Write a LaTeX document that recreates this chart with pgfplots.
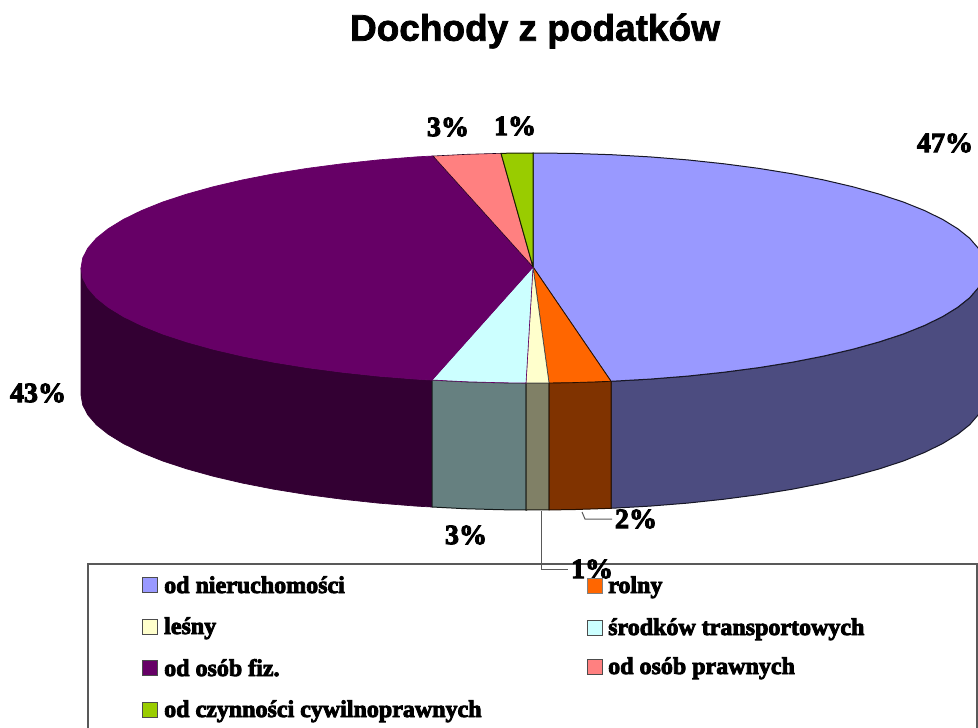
\documentclass[border=0pt]{standalone}
\usepackage{pgfplots}
\pgfplotsset{compat=1.18}
\usepackage{fontspec}
\setmainfont{Liberation Serif}
\newfontfamily\lab[FakeBold=3.5]{Liberation Serif Bold}
\newfontfamily\ttl[FakeBold=2]{Liberation Sans Bold}
\definecolor{cBlue}{HTML}{9999FF}\definecolor{sBlue}{HTML}{4C4C80}
\definecolor{cOr}{HTML}{FF6600}\definecolor{sOr}{HTML}{803300}
\definecolor{cCr}{HTML}{FFFFCC}\definecolor{sCr}{HTML}{808066}
\definecolor{cCy}{HTML}{CCFFFF}\definecolor{sCy}{HTML}{668080}
\definecolor{cPu}{HTML}{660066}\definecolor{sPu}{HTML}{330033}
\definecolor{cPk}{HTML}{FF8080}\definecolor{cGr}{HTML}{99CC00}
\begin{document}
\begin{tikzpicture}
\path[use as bounding box] (0,0) rectangle (978pt,728pt);
\begin{axis}[at={(0,0)},anchor=south west,width=978pt,height=728pt,scale only axis,xmin=0,xmax=978,ymin=0,ymax=728,y dir=reverse,axis lines=none,clip=true]
% sides
\addplot[fill=sBlue,draw=black!70!sBlue,line width=1pt] coordinates {(611,381.3)(650,379.1)(687.6,376.1)(724,372.2)(759,367.6)(792.3,362.2)(823.5,356.1)(852.6,349.3)(879.2,341.9)(903.3,334)(924.4,325.5)(942.6,316.6)(957.7,307.3)(969.6,297.8)(978.1,288)(983.3,278)(985,268)(985,395)(983.3,405)(978.1,415)(969.6,424.8)(957.7,434.3)(942.6,443.6)(924.4,452.5)(903.3,461)(879.2,468.9)(852.6,476.3)(823.5,483.1)(792.3,489.2)(759,494.6)(724,499.2)(687.6,503.1)(650,506.1)(611,508.3)(611,381.3)};
\addplot[fill=sPu,draw=sPu,line width=0.7pt] coordinates {(432,380)(416,379.1)(378.4,376.1)(342,372.2)(307,367.6)(273.7,362.2)(242.5,356.1)(213.4,349.3)(186.8,341.9)(162.7,334)(141.6,325.5)(123.4,316.6)(108.3,307.3)(96.4,297.8)(87.9,288)(82.7,278)(81,268)(81,395)(82.7,405)(87.9,415)(96.4,424.8)(108.3,434.3)(123.4,443.6)(141.6,452.5)(162.7,461)(186.8,468.9)(213.4,476.3)(242.5,483.1)(273.7,489.2)(307,494.6)(342,499.2)(378.4,503.1)(416,506.1)(432,507)(432,380)};
\addplot[fill=sCy,draw=black!80!sCy,line width=1pt] coordinates {(432,380)(465,381.7)(500,382.7)(526,383)(526,510)(500,509.7)(465,508.7)(432,507)(432,380)};
\addplot[fill=sCr,draw=black!80!sCr,line width=1pt] coordinates {(526,383)(549,382.9)(549,509.9)(526,510)(526,383)};
\addplot[fill=sOr,draw=black!70!sOr,line width=1pt] coordinates {(549,382.9)(572.4,382.6)(611,381.3)(611,508.3)(572.4,509.6)(549,509.9)(549,382.9)};
% tops
\addplot[fill=cBlue,draw=black!70!sBlue,line width=1pt] coordinates {(533,267)(533,153)(572.4,153.4)(611.5,154.7)(650,156.9)(687.6,159.9)(724,163.8)(759,168.4)(792.3,173.8)(823.5,179.9)(852.6,186.7)(879.2,194.1)(903.3,202)(924.4,210.5)(942.6,219.4)(957.7,228.7)(969.6,238.2)(978.1,248)(983.3,258)(985,268)(983.3,278)(978.1,288)(969.6,297.8)(957.7,307.3)(942.6,316.6)(924.4,325.5)(903.3,334)(879.2,341.9)(852.6,349.3)(823.5,356.1)(792.3,362.2)(759,367.6)(724,372.2)(687.6,376.1)(650,379.1)(611,381.3)(533,267)};
\addplot[fill=cOr,draw=black!70!sOr,line width=0.7pt] coordinates {(533,267)(611,381.3)(572.4,382.6)(549,382.9)(533,267)};
\addplot[fill=cCr,draw=black!70,line width=0.7pt] coordinates {(533,267)(549,382.9)(526,383)(533,267)};
\addplot[fill=cCy,draw=cPu,line width=0.6pt] coordinates {(533,267)(526,383)(500,382.7)(465,381.7)(432,380)(533,267)};
\addplot[fill=cPu,draw=cPu,line width=0.7pt] coordinates {(533,267)(432,380)(416,379.1)(378.4,376.1)(342,372.2)(307,367.6)(273.7,362.2)(242.5,356.1)(213.4,349.3)(186.8,341.9)(162.7,334)(141.6,325.5)(123.4,316.6)(108.3,307.3)(96.4,297.8)(87.9,288)(82.7,278)(81,268)(82.7,258)(87.9,248)(96.4,238.2)(108.3,228.7)(123.4,219.4)(141.6,210.5)(162.7,202)(186.8,194.1)(213.4,186.7)(242.5,179.9)(273.7,173.8)(307,168.4)(342,163.8)(378.4,159.9)(416,156.9)(433,156)(533,267)};
\addplot[fill=cPk,draw=black!70!cPu,line width=0.6pt] coordinates {(533,267)(433,156)(467,154.3)(501,153.3)(533,267)};
\addplot[fill=cGr,draw=black!85!cGr,line width=1pt] coordinates {(533,267)(501,153.3)(533,153)(533,267)};
% leader lines
\addplot[draw=black!65,line width=1pt] coordinates {(582,512)(585,519)(612,519)};
\addplot[draw=black!65,line width=1pt] coordinates {(541,511)(541,569)(568,569)};
% legend frame
\addplot[draw=black!65,line width=1.3pt] coordinates {(88,729)(88,564)(977,564)(977,729)};
% legend swatches
\addplot[only marks,mark=square*,mark size=7.2pt,mark options={fill=cBlue,draw=black!70,line width=1pt}] coordinates {(150,585)};
\addplot[only marks,mark=square*,mark size=7.2pt,mark options={fill=cOr,draw=black!50,line width=1pt}] coordinates {(595,586)};
\addplot[only marks,mark=square*,mark size=7.2pt,mark options={fill=cCr,draw=black!70,line width=1pt}] coordinates {(150,627)};
\addplot[only marks,mark=square*,mark size=7.2pt,mark options={fill=cCy,draw=black!70,line width=1pt}] coordinates {(595,628)};
\addplot[only marks,mark=square*,mark size=7.2pt,mark options={fill=cPu,draw=black!70,line width=1pt}] coordinates {(150,668)};
\addplot[only marks,mark=square*,mark size=7.2pt,mark options={fill=cPk,draw=black!70,line width=1pt}] coordinates {(595,667)};
\addplot[only marks,mark=square*,mark size=7.2pt,mark options={fill=cGr,draw=black!70,line width=1pt}] coordinates {(150,710)};
% texts
\node[font=\ttl\fontsize{37}{40}\selectfont] at (axis cs:535,31) {Dochody z podatków};
\tikzset{pct/.style={font=\lab\fontsize{28}{30}\selectfont,inner sep=0pt},lg/.style={font=\lab\fontsize{24}{26}\selectfont,anchor=base west,inner sep=0pt}}
\node[pct] at (axis cs:945,143) {47\%};
\node[pct] at (axis cs:448,127) {3\%};
\node[pct] at (axis cs:515,126) {1\%};
\node[pct] at (axis cs:38,393) {43\%};
\node[pct] at (axis cs:466,535) {3\%};
\node[pct] at (axis cs:636,519) {2\%};
\node[pct] at (axis cs:592,569) {1\%};
\node[lg] at (axis cs:164,593) {od nieruchomości};
\node[lg] at (axis cs:164,634) {leśny};
\node[lg] at (axis cs:164,676) {od osób fiz.};
\node[lg] at (axis cs:164,717) {od czynności cywilnoprawnych};
\node[lg] at (axis cs:608,593) {rolny};
\node[lg] at (axis cs:608,635) {środków transportowych};
\node[lg] at (axis cs:608,674) {od osób prawnych};
\end{axis}
\end{tikzpicture}
\end{document}
